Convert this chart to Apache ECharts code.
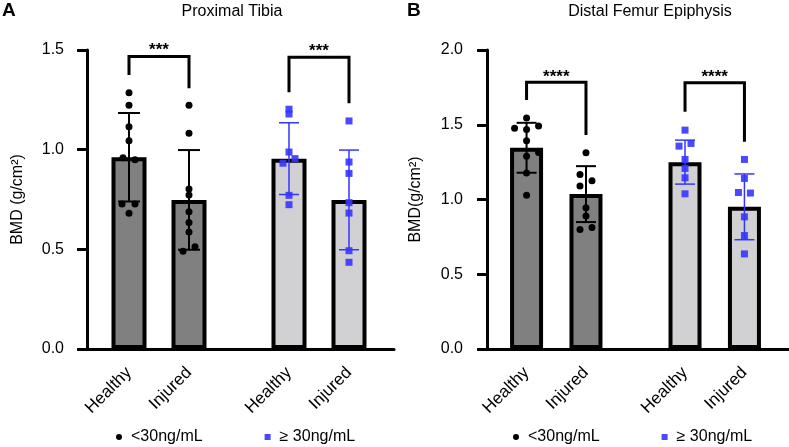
<!DOCTYPE html>
<html><head><meta charset="utf-8">
<script src="https://cdn.jsdelivr.net/npm/echarts@6/dist/echarts.min.js"></script>
<style>html,body{margin:0;padding:0;background:#fff}#c{width:789px;height:447px}</style>
</head><body><div id="c"></div>
<script>
// ---------- data ----------
const CATEGORIES = ['Healthy', 'Injured', 'Healthy', 'Injured'];
const GROUP_NAMES = ['<30ng/mL', '≥ 30ng/mL'];
const BAR_GROUP = [0, 0, 1, 1];
const STARS_A = ['***', '***'];
const STARS_B = ['****', '****'];

const A_TITLE = 'Proximal Tibia';
const A_YNAME = 'BMD (g/cm²)';
const A_MEAN = [0.962, 0.748, 0.955, 0.748];
const A_SD = [0.222, 0.25, 0.18, 0.25];
const A_HEALTHY_LOW = [1.286, 1.223, 1.115, 1.045, 0.96, 0.95, 0.727, 0.727, 0.681];
const A_INJURED_LOW = [1.223, 1.082, 0.803, 0.773, 0.689, 0.634, 0.587, 0.49, 0.513];
const A_HEALTHY_HIGH = [1.203, 1.179, 0.988, 0.955, 0.932, 0.771, 0.724];
const A_INJURED_HIGH = [1.144, 0.938, 0.881, 0.734, 0.682, 0.493, 0.435];
const A_BRACKET_TOP = [1.467, 1.464];
const A_BRACKET_LEFT_END = [1.375, 1.288];
const A_BRACKET_RIGHT_END = [1.308, 1.233];

const B_TITLE = 'Distal Femur Epiphysis';
const B_YNAME = 'BMD(g/cm²)';
const B_MEAN = [1.346, 1.036, 1.25, 0.951];
const B_SD = [0.167, 0.187, 0.147, 0.22];
const B_HEALTHY_LOW = [1.545, 1.476, 1.469, 1.491, 1.393, 1.29, 1.315, 1.178, 1.029];
const B_INJURED_LOW = [1.313, 1.168, 1.125, 1.091, 0.944, 0.89, 0.8, 0.813];
const B_HEALTHY_HIGH = [1.464, 1.357, 1.375, 1.268, 1.208, 1.145, 1.038];
const B_INJURED_HIGH = [1.268, 1.141, 1.047, 1.043, 0.884, 0.759, 0.636];
const B_BRACKET_TOP = [1.784, 1.781];
const B_BRACKET_LEFT_END = [1.665, 1.587];
const B_BRACKET_RIGHT_END = [1.431, 1.386];

// ---------- layout / style (not data) ----------
const JIT_A = [
  [0, 0, 0, 0, -6, 6, -7, 6, 0],
  [0, 0, 0, 0, 0, 0, 0, -6, 6],
  [0, 0, 0, 6, -6, 0, 0],
  [0, 0, 0, 0, 0, 0, 0]
];
const JIT_B = [
  [0, -12, 0, 12, 0, 0, 12, 0, 0],
  [0, -6, 6, -6, 0, 0, -6, 6],
  [0, -6, 6, 0, 0, 0, 0],
  [0, 0, -6, 6, 0, 0, 0]
];
const SLOT = [4, 10, 20, 26];
const NSLOTS = 31;
const BAR_COLORS = ['#808080', '#d1d1d4'];
const BLUE = '#3535ff';
const FONT = "'Liberation Sans', Arial, sans-serif";

function panel(i, cfg) {
  const slotNames = Array.from({length: NSLOTS}, (_, k) => 'c' + k);
  const isSlot = (k) => SLOT.indexOf(k) >= 0;
  const xAxis = {
    type: 'category', gridIndex: i, data: slotNames, boundaryGap: true,
    axisLine: {lineStyle: {color: '#000', width: 3}},
    axisTick: {alignWithLabel: true, length: 11, lineStyle: {color: '#000', width: 3},
      interval: (k) => isSlot(k)},
    axisLabel: {interval: (k) => isSlot(k), rotate: 45, fontSize: 17, color: '#000', margin: 21,
      fontFamily: FONT,
      formatter: (v, k) => { const j = SLOT.indexOf(k); return j >= 0 ? CATEGORIES[j] : ''; }},
    splitLine: {show: false}
  };
  const yAxis = {
    type: 'value', gridIndex: i, min: 0, max: cfg.max, interval: 0.5, offset: cfg.yOffset,
    axisLine: {show: true, lineStyle: {color: '#000', width: 3}},
    axisTick: {show: true, length: 10, lineStyle: {color: '#000', width: 3}},
    axisLabel: {formatter: (v) => v.toFixed(1), fontSize: 16, color: '#000', margin: cfg.labelMargin, fontFamily: FONT},
    splitLine: {show: false},
    name: cfg.yName, nameLocation: 'middle', nameGap: cfg.nameGap,
    nameTextStyle: {fontSize: 16, color: '#000', fontFamily: FONT}
  };
  const series = [];
  series.push({
    type: 'bar', name: 'bars' + i, xAxisIndex: i, yAxisIndex: i, barWidth: cfg.barWidth, z: 2, silent: true,
    itemStyle: {borderColor: '#000', borderWidth: 4},
    data: SLOT.map((s, k) => ({value: [s, cfg.mean[k]], itemStyle: {color: BAR_COLORS[BAR_GROUP[k]]}}))
  });
  series.push({
    type: 'custom', name: 'err' + i, xAxisIndex: i, yAxisIndex: i, z: 3, silent: true,
    encode: {x: 0, y: 1},
    data: SLOT.map((s, k) => [s, cfg.mean[k], cfg.sd[k], BAR_GROUP[k]]),
    renderItem: (params, api) => {
      const x = api.value(0), m = api.value(1), sd = api.value(2), g = api.value(3);
      const t = api.coord([x, m + sd]), b = api.coord([x, m - sd]);
      const color = g ? BLUE : '#000';
      const lw = g ? 1.5 : 2;
      const hw = cfg.capHalf[g];
      const st = {stroke: color, lineWidth: lw};
      return {type: 'group', children: [
        {type: 'line', shape: {x1: t[0], y1: t[1], x2: b[0], y2: b[1]}, style: st},
        {type: 'line', shape: {x1: t[0] - hw, y1: t[1], x2: t[0] + hw, y2: t[1]}, style: st},
        {type: 'line', shape: {x1: b[0] - hw, y1: b[1], x2: b[0] + hw, y2: b[1]}, style: st}
      ]};
    }
  });
  [0, 1].forEach((g) => {
    const data = [];
    SLOT.forEach((s, k) => {
      if (BAR_GROUP[k] !== g) return;
      cfg.points[k].forEach((v, j) => data.push({value: [s, v], symbolOffset: [cfg.jitter[k][j], 0]}));
    });
    series.push({
      type: 'scatter', name: GROUP_NAMES[g], xAxisIndex: i, yAxisIndex: i, z: 4, silent: true,
      symbol: g ? 'rect' : 'circle', symbolSize: g ? 7 : 7,
      itemStyle: {color: g ? BLUE : '#000', opacity: g ? 0.9 : 1},
      data
    });
  });
  series.push({
    type: 'custom', name: 'sig' + i, xAxisIndex: i, yAxisIndex: i, z: 5, silent: true,
    encode: {x: [0, 1], y: [2, 3, 4]},
    data: [0, 1].map((g) => [SLOT[2 * g], SLOT[2 * g + 1], cfg.bTop[g], cfg.bLeft[g], cfg.bRight[g], g]),
    renderItem: (params, api) => {
      const xl = api.value(0), xr = api.value(1), top = api.value(2), le = api.value(3), re = api.value(4);
      const g = api.value(5);
      const p1 = api.coord([xl, le]), p2 = api.coord([xl, top]), p3 = api.coord([xr, top]), p4 = api.coord([xr, re]);
      return {type: 'group', children: [
        {type: 'polyline', shape: {points: [p1, p2, p3, p4]}, style: {stroke: '#000', lineWidth: 3, fill: null}},
        {type: 'text', x: (p2[0] + p3[0]) / 2, y: p2[1] - cfg.starGap,
          style: {text: cfg.stars[g], fill: '#000', font: 'bold 17px ' + FONT, textAlign: 'center', textVerticalAlign: 'middle'}}
      ]};
    }
  });
  return {
    grid: {left: cfg.left, top: 50, width: NSLOTS * 10, height: 299, containLabel: false},
    xAxis, yAxis, series
  };
}

const pA = panel(0, {max: 1.5, yOffset: -3, labelMargin: 23, nameGap: 61, yName: A_YNAME, left: 84, barWidth: 35,
  mean: A_MEAN, sd: A_SD, points: [A_HEALTHY_LOW, A_INJURED_LOW, A_HEALTHY_HIGH, A_INJURED_HIGH], jitter: JIT_A,
  capHalf: [11, 10], bTop: A_BRACKET_TOP, bLeft: A_BRACKET_LEFT_END, bRight: A_BRACKET_RIGHT_END, stars: STARS_A, starGap: 6});
const pB = panel(1, {max: 2.0, yOffset: -5, labelMargin: 24, nameGap: 63, yName: B_YNAME, left: 482, barWidth: 33,
  mean: B_MEAN, sd: B_SD, points: [B_HEALTHY_LOW, B_INJURED_LOW, B_HEALTHY_HIGH, B_INJURED_HIGH], jitter: JIT_B,
  capHalf: [10, 10], bTop: B_BRACKET_TOP, bLeft: B_BRACKET_LEFT_END, bRight: B_BRACKET_RIGHT_END, stars: STARS_B, starGap: 5});

const legendData = [{name: GROUP_NAMES[0], icon: 'circle'}, {name: GROUP_NAMES[1], icon: 'rect'}];
const legendBase = {top: 424, itemWidth: 6, itemHeight: 6, itemGap: 62, selectedMode: false,
  textStyle: {fontSize: 16, color: '#000', fontFamily: FONT, padding: [0, 0, 0, 4]}, data: legendData};

const option = {
  animation: false,
  backgroundColor: '#fff',
  textStyle: {fontFamily: FONT},
  grid: [pA.grid, pB.grid],
  xAxis: [pA.xAxis, pB.xAxis],
  yAxis: [pA.yAxis, pB.yAxis],
  series: pA.series.concat(pB.series),
  legend: [Object.assign({left: 111}, legendBase), Object.assign({left: 508}, legendBase)],
  graphic: [
    {type: 'text', x: 2, y: 11, style: {text: 'A', font: 'bold 19px ' + FONT, fill: '#000', textVerticalAlign: 'middle'}},
    {type: 'text', x: 407, y: 11, style: {text: 'B', font: 'bold 19px ' + FONT, fill: '#000', textVerticalAlign: 'middle'}},
    {type: 'text', x: 232, y: 12, style: {text: A_TITLE, font: '16px ' + FONT, fill: '#000', textAlign: 'center', textVerticalAlign: 'middle'}},
    {type: 'text', x: 650, y: 12, style: {text: B_TITLE, font: '16px ' + FONT, fill: '#000', textAlign: 'center', textVerticalAlign: 'middle'}}
  ]
};
const chart = echarts.init(document.getElementById('c'));
chart.setOption(option);
</script>
</body></html>
